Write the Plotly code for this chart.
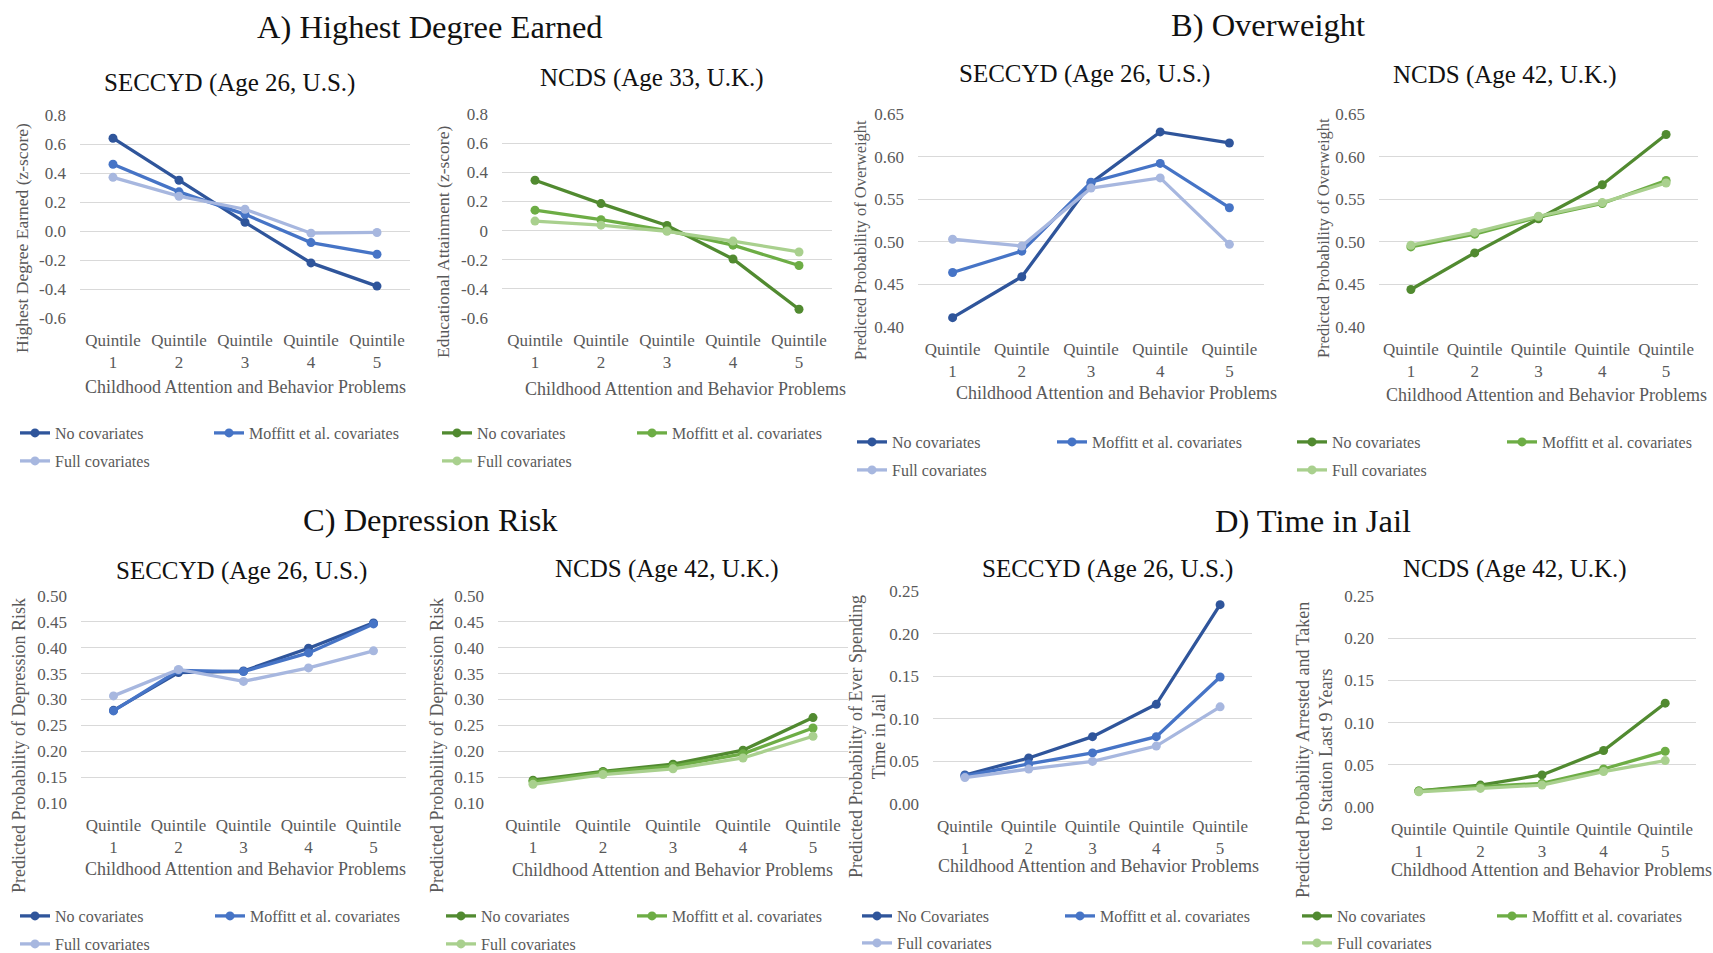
import plotly.graph_objects as go

W, H = 1713, 953
FONT = "Liberation Serif"
GRAY = "#595959"

# ---------------- data ----------------
quintiles = ["Quintile<br>1", "Quintile<br>2", "Quintile<br>3", "Quintile<br>4", "Quintile<br>5"]
series_names = ["No covariates", "Moffitt et al. covariates", "Full covariates"]
series_names_d1 = ["No Covariates", "Moffitt et al. covariates", "Full covariates"]

# A) Highest degree earned
a1_no = [0.64, 0.35, 0.06, -0.22, -0.38]
a1_moffitt = [0.46, 0.27, 0.115, -0.08, -0.16]
a1_full = [0.37, 0.24, 0.15, -0.015, -0.01]
a2_no = [0.345, 0.185, 0.035, -0.195, -0.54]
a2_moffitt = [0.14, 0.075, 0.0, -0.10, -0.24]
a2_full = [0.065, 0.037, -0.005, -0.072, -0.147]

# B) Overweight
b1_no = [0.411, 0.459, 0.569, 0.629, 0.616]
b1_moffitt = [0.464, 0.489, 0.570, 0.592, 0.540]
b1_full = [0.503, 0.495, 0.563, 0.575, 0.497]
b2_no = [0.444, 0.487, 0.527, 0.567, 0.626]
b2_moffitt = [0.494, 0.509, 0.529, 0.545, 0.572]
b2_full = [0.496, 0.511, 0.530, 0.546, 0.569]

# C) Depression risk
c1_no = [0.279, 0.352, 0.355, 0.399, 0.448]
c1_moffitt = [0.278, 0.356, 0.354, 0.390, 0.446]
c1_full = [0.307, 0.358, 0.335, 0.361, 0.394]
c2_no = [0.144, 0.161, 0.175, 0.202, 0.265]
c2_moffitt = [0.141, 0.159, 0.171, 0.195, 0.245]
c2_full = [0.136, 0.155, 0.166, 0.187, 0.229]

# D) Time in jail
d1_no = [0.034, 0.054, 0.079, 0.117, 0.234]
d1_moffitt = [0.033, 0.047, 0.060, 0.079, 0.149]
d1_full = [0.031, 0.041, 0.050, 0.068, 0.114]
d2_no = [0.019, 0.026, 0.038, 0.067, 0.123]
d2_moffitt = [0.019, 0.024, 0.028, 0.045, 0.066]
d2_full = [0.018, 0.022, 0.026, 0.042, 0.055]

# tick labels
a1_tickvals = [0.8, 0.6, 0.4, 0.2, 0.0, -0.2, -0.4, -0.6]
a1_ticktext = ["0.8", "0.6", "0.4", "0.2", "0.0", "-0.2", "-0.4", "-0.6"]
a2_ticktext = ["0.8", "0.6", "0.4", "0.2", "0", "-0.2", "-0.4", "-0.6"]
b_tickvals = [0.40, 0.45, 0.50, 0.55, 0.60, 0.65]
b_ticktext = ["0.40", "0.45", "0.50", "0.55", "0.60", "0.65"]
c_tickvals = [0.10, 0.15, 0.20, 0.25, 0.30, 0.35, 0.40, 0.45, 0.50]
c_ticktext = ["0.10", "0.15", "0.20", "0.25", "0.30", "0.35", "0.40", "0.45", "0.50"]
d_tickvals = [0.00, 0.05, 0.10, 0.15, 0.20, 0.25]
d_ticktext = ["0.00", "0.05", "0.10", "0.15", "0.20", "0.25"]

xtitle = "Childhood Attention and Behavior Problems"
section_titles = ["A) Highest Degree Earned", "B) Overweight", "C) Depression Risk", "D) Time in Jail"]

BLUES = ["#2F559B", "#4674C6", "#A7B7DF"]
GREENS = ["#518A30", "#6DAD45", "#A9D08E"]

# ---------------- layout specs (pixels) ----------------
panels = [
    dict(series=[a1_no, a1_moffitt, a1_full], names=series_names, colors=BLUES,
         tv=a1_tickvals, tt=a1_ticktext, rng=[-0.6, 0.8], box=(80, 410, 115, 318),
         title="SECCYD (Age 26, U.S.)", txy=(229, 83),
         ytitle="Highest Degree Earned (z-score)", ysize=17.5, yxy=(22, 238), xxy=(246, 387),
         leg=[(20, 433), (214, 433), (20, 461)]),
    dict(series=[a2_no, a2_moffitt, a2_full], names=series_names, colors=GREENS,
         tv=a1_tickvals, tt=a2_ticktext, rng=[-0.6, 0.8], box=(502, 832, 114, 318),
         title="NCDS (Age 33, U.K.)", txy=(652, 78),
         ytitle="Educational Attainment (z-score)", ysize=17.5, yxy=(443, 242), xxy=(685, 389),
         leg=[(442, 433), (637, 433), (442, 461)]),
    dict(series=[b1_no, b1_moffitt, b1_full], names=series_names, colors=BLUES,
         tv=b_tickvals, tt=b_ticktext, rng=[0.40, 0.65], box=(918, 1264, 114, 327),
         title="SECCYD (Age 26, U.S.)", txy=(1084, 74),
         ytitle="Predicted Probability of Overweight", ysize=16.5, yxy=(861, 240), xxy=(1116, 393),
         leg=[(857, 442), (1057, 442), (857, 470)]),
    dict(series=[b2_no, b2_moffitt, b2_full], names=series_names, colors=GREENS,
         tv=b_tickvals, tt=b_ticktext, rng=[0.40, 0.65], box=(1379, 1698, 114, 327),
         title="NCDS (Age 42, U.K.)", txy=(1505, 75),
         ytitle="Predicted Probability of Overweight", ysize=16.5, yxy=(1323, 238), xxy=(1546, 395),
         leg=[(1297, 442), (1507, 442), (1297, 470)]),
    dict(series=[c1_no, c1_moffitt, c1_full], names=series_names, colors=BLUES,
         tv=c_tickvals, tt=c_ticktext, rng=[0.10, 0.50], box=(81, 406, 596, 803),
         title="SECCYD (Age 26, U.S.)", txy=(241, 571),
         ytitle="Predicted Probability of Depression Risk", ysize=18, yxy=(19, 746), xxy=(246, 869),
         leg=[(20, 916), (215, 916), (20, 944)]),
    dict(series=[c2_no, c2_moffitt, c2_full], names=series_names, colors=GREENS,
         tv=c_tickvals, tt=c_ticktext, rng=[0.10, 0.50], box=(498, 848, 596, 803),
         title="NCDS (Age 42, U.K.)", txy=(667, 569),
         ytitle="Predicted Probability of Depression Risk", ysize=18, yxy=(437, 746), xxy=(672, 870),
         leg=[(446, 916), (637, 916), (446, 944)]),
    dict(series=[d1_no, d1_moffitt, d1_full], names=series_names_d1, colors=BLUES,
         tv=d_tickvals, tt=d_ticktext, rng=[0.0, 0.25], box=(933, 1252, 591, 804),
         title="SECCYD (Age 26, U.S.)", txy=(1107, 569),
         ytitle="Predicted Probability of Ever Spending<br>Time in Jail", ysize=18, yxy=(867, 737), xxy=(1098, 866),
         leg=[(862, 916), (1065, 916), (862, 943)]),
    dict(series=[d2_no, d2_moffitt, d2_full], names=series_names, colors=GREENS,
         tv=d_tickvals, tt=d_ticktext, rng=[0.0, 0.25], box=(1388, 1696, 596, 807),
         title="NCDS (Age 42, U.K.)", txy=(1515, 569),
         ytitle="Predicted Probability Arrested and Taken<br>to Station Last 9 Years", ysize=18, yxy=(1314, 750), xxy=(1551, 870),
         leg=[(1302, 916), (1497, 916), (1302, 943)]),
]
section_xy = [(430, 27), (1268, 25), (430, 520), (1313, 521)]


def px(x):
    return x / W


def py(y):
    return 1 - y / H


fig = go.Figure()
layout = dict(
    width=W, height=H,
    margin=dict(l=0, r=0, t=0, b=0, autoexpand=False),
    paper_bgcolor="white", plot_bgcolor="white",
    font=dict(family=FONT, color=GRAY),
    annotations=[],
)

leg_idx = 0
for i, p in enumerate(panels):
    n = i + 1
    xa = "x" if n == 1 else f"x{n}"
    ya = "y" if n == 1 else f"y{n}"
    xkey = "xaxis" if n == 1 else f"xaxis{n}"
    ykey = "yaxis" if n == 1 else f"yaxis{n}"
    x0, x1, y0, y1 = p["box"]
    layout[xkey] = dict(
        domain=[px(x0), px(x1)], anchor=ya, type="category",
        categoryorder="array", categoryarray=quintiles,
        range=[-0.5, 4.5], showgrid=False, zeroline=False, showline=False,
        ticks="", tickangle=0, ticklabelstandoff=10,
        tickfont=dict(family=FONT, size=17, color=GRAY), fixedrange=True,
    )
    layout[ykey] = dict(
        domain=[py(y1), py(y0)], anchor=xa, range=p["rng"],
        tickvals=p["tv"], ticktext=p["tt"],
        showgrid=True, gridcolor="#D9D9D9", gridwidth=1,
        zeroline=False, showline=False, ticks="", ticklabelstandoff=13,
        tickfont=dict(family=FONT, size=17, color=GRAY), fixedrange=True,
    )
    for j, (vals, name, col) in enumerate(zip(p["series"], p["names"], p["colors"])):
        leg_idx += 1
        lkey = "legend" if leg_idx == 1 else f"legend{leg_idx}"
        fig.add_trace(go.Scatter(
            x=quintiles, y=vals, name=name, mode="lines+markers",
            line=dict(color=col, width=3.3),
            marker=dict(color=col, size=9),
            xaxis=xa, yaxis=ya, legend=lkey, showlegend=True,
            hoverinfo="y+name",
        ))
        lx, ly = p["leg"][j]
        layout[lkey] = dict(
            x=px(lx - 5), y=py(ly), xanchor="left", yanchor="middle",
            bgcolor="rgba(0,0,0,0)", borderwidth=0,
            font=dict(family=FONT, size=16, color=GRAY),
        )
    # panel title
    layout["annotations"].append(dict(
        text=p["title"], x=px(p["txy"][0]), y=py(p["txy"][1]), xref="paper", yref="paper",
        xanchor="center", yanchor="middle", showarrow=False,
        font=dict(family=FONT, size=25, color="#111111")))
    # x-axis title
    layout["annotations"].append(dict(
        text=xtitle, x=px(p["xxy"][0]), y=py(p["xxy"][1]), xref="paper", yref="paper",
        xanchor="center", yanchor="middle", showarrow=False,
        font=dict(family=FONT, size=18, color=GRAY)))
    # y-axis title
    layout["annotations"].append(dict(
        text=p["ytitle"], x=px(p["yxy"][0]), y=py(p["yxy"][1]), xref="paper", yref="paper",
        xanchor="center", yanchor="middle", showarrow=False, textangle=-90,
        font=dict(family=FONT, size=p["ysize"], color=GRAY)))

for t, (sx, sy) in zip(section_titles, section_xy):
    layout["annotations"].append(dict(
        text=t, x=px(sx), y=py(sy), xref="paper", yref="paper",
        xanchor="center", yanchor="middle", showarrow=False,
        font=dict(family=FONT, size=32.5, color="#111111")))

fig.update_layout(**layout)
fig.write_html(
    "out.html",
    config={"displayModeBar": False},
    post_script=(
        "document.body.style.margin='0';document.body.style.padding='0';"
        "document.documentElement.style.overflow='hidden';"
        "document.body.style.overflow='hidden';"
    ),
)
